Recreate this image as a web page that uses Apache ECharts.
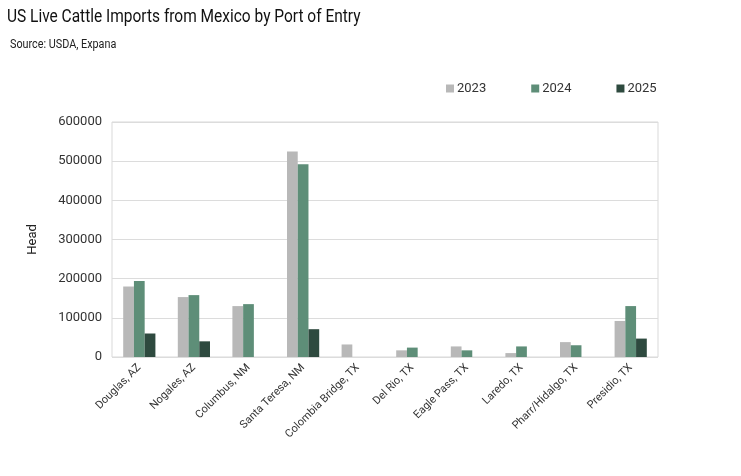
<!DOCTYPE html>
<html lang="en">
	<head>
		<meta charset="UTF-8" />
		<title>US Live Cattle Imports from Mexico by Port of Entry</title>
		<style>
			body {
				margin: 0;
				padding: 0;
				background: #fff;
			}
			.chart {
				width: 741px;
				height: 476px;
			}
		</style>
	</head>
	<body>
		<div class="chart"></div>
		<script src="https://cdn.jsdelivr.net/npm/echarts@6/dist/echarts.min.js"></script>
		<script>
			const ports = [
				'Douglas, AZ',
				'Nogales, AZ',
				'Columbus, NM',
				'Santa Teresa, NM',
				'Colombia Bridge, TX',
				'Del Rio, TX',
				'Eagle Pass, TX',
				'Laredo, TX',
				'Pharr/Hidalgo, TX',
				'Presidio, TX'
			];
			const years = ['2023', '2024', '2025'];
			const head2023 = [180000, 153000, 130000, 525000, 32000, 17000, 27000, 10000, 38000, 92000];
			const head2024 = [194000, 158000, 135000, 492000, 0, 24000, 17000, 27000, 30000, 130000];
			const head2025 = [60000, 40000, 0, 71000, 0, 0, 0, 0, 0, 47000];
			const yTicks = [0, 100000, 200000, 300000, 400000, 500000, 600000];

			const colors = ['#b8b8b8', '#5e8e78', '#2e4a3f'];
			const font = 'Roboto, sans-serif';

			const container = document.querySelector('.chart');
			const instance = echarts.init(container);
			const option = {
				animation: false,
				// condensed look of the original heading: squeeze the text horizontally
				graphic: [
					{
						type: 'text',
						left: 7,
						top: 8,
						scaleX: 0.86,
						style: {
							text: 'US Live Cattle Imports from Mexico by Port of Entry',
							font: '18px Roboto, sans-serif',
							fill: '#111'
						}
					},
					{
						type: 'text',
						left: 10,
						top: 39,
						scaleX: 0.9,
						style: {
							text: 'Source: USDA, Expana',
							font: '12px Roboto, sans-serif',
							fill: '#222'
						}
					}
				],
				legend: {
					data: years,
					top: 77,
					left: 441,
					itemWidth: 8,
					itemHeight: 8,
					itemGap: 45,
					icon: 'rect',
					textStyle: { fontFamily: font, fontSize: 13, color: '#333', padding: [0, 0, 0, -2] }
				},
				grid: {
					left: 112,
					right: 83,
					top: 122,
					bottom: 119,
					show: true,
					borderColor: '#d9d9d9',
					borderWidth: 1
				},
				xAxis: {
					type: 'category',
					data: ports,
					axisLine: { show: false },
					axisTick: { show: false },
					axisLabel: {
						interval: 0,
						rotate: 45,
						fontFamily: font,
						fontSize: 11,
						color: '#333',
						margin: 9
					}
				},
				yAxis: {
					type: 'value',
					min: yTicks[0],
					max: yTicks[yTicks.length - 1],
					interval: yTicks[1] - yTicks[0],
					name: 'Head',
					nameLocation: 'middle',
					nameGap: 73,
					nameTextStyle: { fontFamily: font, fontSize: 13, color: '#222' },
					axisLine: { show: false },
					axisTick: { show: false },
					splitLine: { lineStyle: { color: '#dcdcdc', width: 1 } },
					axisLabel: {
						fontFamily: font,
						fontSize: 13,
						color: '#333',
						margin: 10,
						formatter: v => String(v)
					}
				},
				series: [head2023, head2024, head2025].map((vals, i) => ({
					name: years[i],
					type: 'bar',
					data: vals.map(v => (v === 0 ? null : v)),
					itemStyle: { color: colors[i] },
					barGap: '0%',
					barCategoryGap: '41%'
				}))
			};
			instance.setOption(option);
		</script>
	</body>
</html>
